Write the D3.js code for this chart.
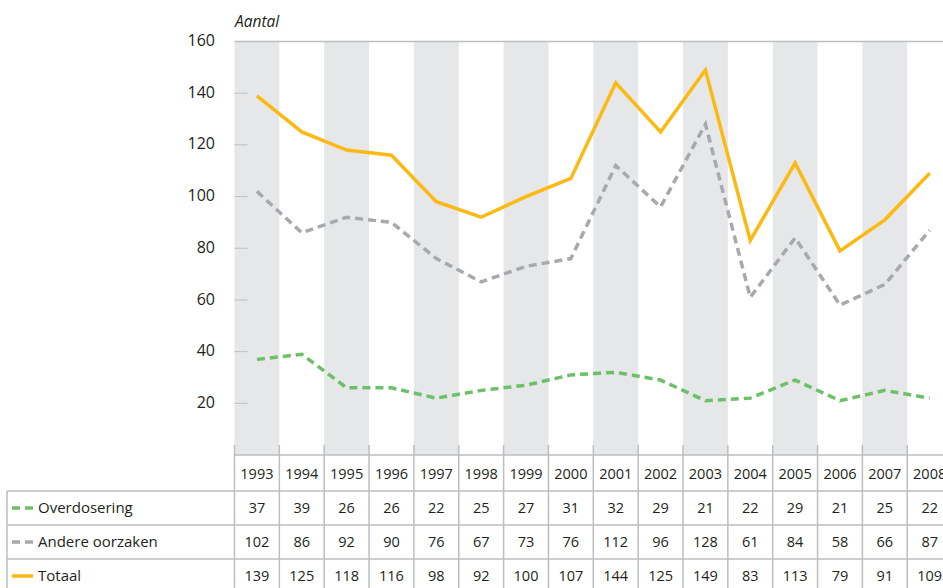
<!DOCTYPE html>
<html>
<head>
<meta charset="utf-8">
<script src="https://cdn.jsdelivr.net/npm/d3@7"></script>
<style>
  html, body { margin: 0; padding: 0; background: #fff; }
  svg { display: block; font-family: "Open Sans", sans-serif; }
</style>
</head>
<body>
<svg id="chart" width="943" height="588"></svg>
<script>
// Aantal per jaar, 1993–2008
const years = ['1993', '1994', '1995', '1996', '1997', '1998', '1999', '2000',
               '2001', '2002', '2003', '2004', '2005', '2006', '2007', '2008'];
const overdosering = [37, 39, 26, 26, 22, 25, 27, 31, 32, 29, 21, 22, 29, 21, 25, 22];
const andere = [102, 86, 92, 90, 76, 67, 73, 76, 112, 96, 128, 61, 84, 58, 66, 87];
const totaal = [139, 125, 118, 116, 98, 92, 100, 107, 144, 125, 149, 83, 113, 79, 91, 109];
const yTicks = [20, 40, 60, 80, 100, 120, 140, 160];

const series = [
  { name: 'Overdosering', values: overdosering, color: '#6cc067', dash: '8,5' },
  { name: 'Andere oorzaken', values: andere, color: '#a7a9ac', dash: '8,5' },
  { name: 'Totaal', values: totaal, color: '#fdb913', dash: null },
];

const svg = d3.select('#chart');
const left = 234.5, colW = 44.85;
const plotTop = 41.5, base = 455;

const x = d3.scaleBand().domain(years).range([left, left + colW * years.length]);
const y = d3.scaleLinear().domain([0, 160]).range([base, plotTop]);
const cx = (d) => x(d) + x.bandwidth() / 2;

// alternating grey bands
svg.append('g').selectAll('rect')
  .data(years.filter((d, i) => i % 2 === 0))
  .join('rect')
  .attr('x', (d) => x(d))
  .attr('y', plotTop)
  .attr('width', x.bandwidth())
  .attr('height', base - plotTop)
  .attr('fill', '#e6e7e8');

// top line
svg.append('line')
  .attr('x1', left).attr('x2', 943)
  .attr('y1', y(160)).attr('y2', y(160))
  .attr('stroke', '#bcbec0').attr('stroke-width', 1.5);

// y ticks + labels
const gy = svg.append('g');
gy.selectAll('line')
  .data(yTicks.filter((d) => d < 160))
  .join('line')
  .attr('x1', left).attr('x2', left + 13)
  .attr('y1', (d) => y(d)).attr('y2', (d) => y(d))
  .attr('stroke', '#bcbec0').attr('stroke-width', 1);
gy.selectAll('text')
  .data(yTicks)
  .join('text')
  .attr('x', 215)
  .attr('y', (d) => y(d) - 1)
  .attr('dy', '0.35em')
  .attr('text-anchor', 'end')
  .attr('font-size', 16)
  .attr('fill', '#231f20')
  .text((d) => d);

svg.append('text')
  .attr('x', 235).attr('y', 27)
  .attr('font-size', 15.5)
  .attr('font-style', 'italic')
  .attr('fill', '#231f20')
  .text('Aantal');

// lines
const line = d3.line().x((d, i) => cx(years[i])).y((d) => y(d));
svg.append('g').selectAll('path')
  .data(series)
  .join('path')
  .attr('d', (s) => line(s.values))
  .attr('fill', 'none')
  .attr('stroke', (s) => s.color)
  .attr('stroke-width', 3.5)
  .attr('stroke-linejoin', 'miter')
  .attr('stroke-dasharray', (s) => s.dash);

// table
const rowH = 34;
const headTop = base, headBot = 491;
const tbl = svg.append('g');
const gridC = '#bcbec0';

// header baseline
tbl.append('line')
  .attr('x1', left).attr('x2', 943)
  .attr('y1', headTop).attr('y2', headTop)
  .attr('stroke', gridC).attr('stroke-width', 1.5);

// row lines
const rowLines = [headBot, headBot + rowH, headBot + 2 * rowH];
tbl.selectAll('line.row')
  .data(rowLines)
  .join('line')
  .attr('class', 'row')
  .attr('x1', 7).attr('x2', 943)
  .attr('y1', (d) => d).attr('y2', (d) => d)
  .attr('stroke', gridC).attr('stroke-width', 1.5);

// column lines
tbl.selectAll('line.col')
  .data(years.concat(['end']))
  .join('line')
  .attr('class', 'col')
  .attr('x1', (d, i) => left + i * colW)
  .attr('x2', (d, i) => left + i * colW)
  .attr('y1', headTop - 10)
  .attr('y2', 588)
  .attr('stroke', gridC).attr('stroke-width', 1.5);

// left border of label column
tbl.append('line')
  .attr('x1', 7).attr('x2', 7)
  .attr('y1', headBot).attr('y2', 588)
  .attr('stroke', gridC).attr('stroke-width', 1.5);

// year header
tbl.selectAll('text.year')
  .data(years)
  .join('text')
  .attr('class', 'year')
  .attr('x', (d) => cx(d))
  .attr('y', (headTop + headBot) / 2 + 1)
  .attr('dy', '0.35em')
  .attr('text-anchor', 'middle')
  .attr('font-size', 14.5)
  .attr('fill', '#231f20')
  .text((d) => d);

// data rows
series.forEach((s, r) => {
  const yc = headBot + rowH * r + rowH / 2;
  tbl.append('line')
    .attr('x1', 12).attr('x2', 33)
    .attr('y1', yc).attr('y2', yc)
    .attr('stroke', s.color)
    .attr('stroke-width', 3.5)
    .attr('stroke-dasharray', s.dash);
  tbl.append('text')
    .attr('x', 38).attr('y', yc)
    .attr('dy', '0.35em')
    .attr('font-size', 15)
    .attr('fill', '#231f20')
    .text(s.name);
  tbl.selectAll(null)
    .data(s.values)
    .join('text')
    .attr('x', (d, i) => cx(years[i]))
    .attr('y', yc)
    .attr('dy', '0.35em')
    .attr('text-anchor', 'middle')
    .attr('font-size', 14.5)
    .attr('fill', '#231f20')
    .text((d) => d);
});
</script>
</body>
</html>
